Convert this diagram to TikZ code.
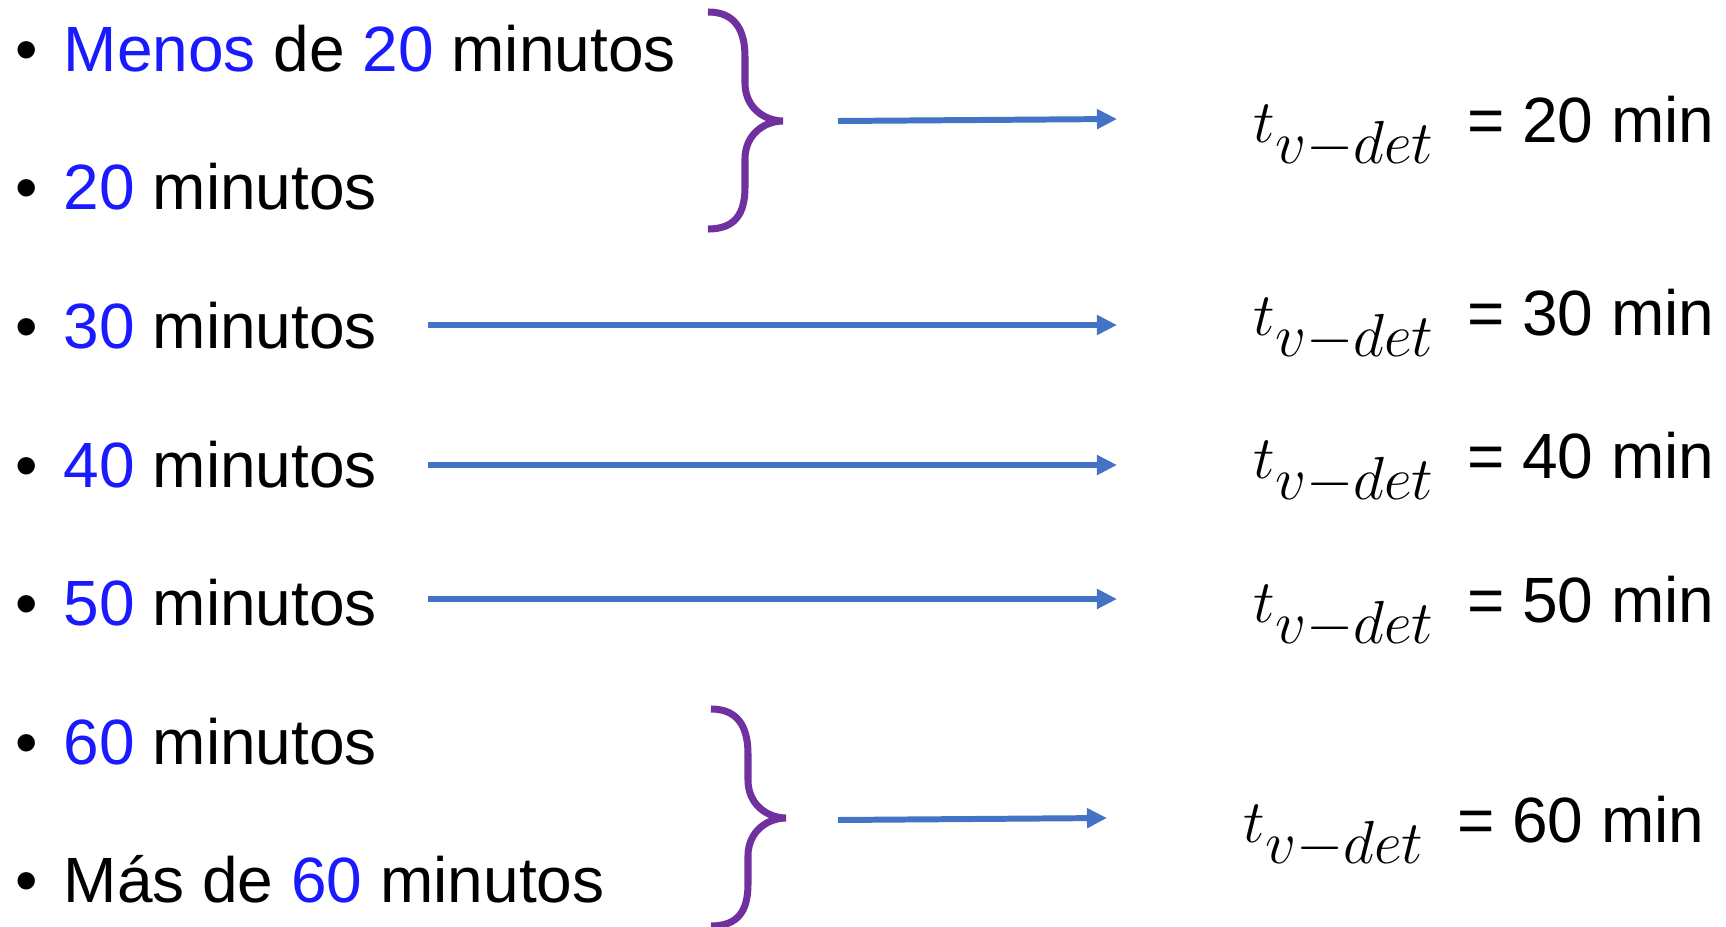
\documentclass[tikz,border=0pt]{standalone}
\usepackage{fontspec}
\setmainfont{Liberation Sans}
\usepackage{xcolor}
\usetikzlibrary{arrows.meta}
\DeclareMathSizes{18.2}{18.2}{16.7}{12}
\definecolor{azul}{HTML}{1A1AFF}
\definecolor{azulflecha}{HTML}{4472C4}
\definecolor{morado}{HTML}{7030A0}
\newcommand{\vin}{\makebox[0.48cm][l]{•}}
\newcommand{\az}[1]{\textcolor{azul}{#1}}
\newcommand{\tvdet}{$t_{v-det}$\hspace{0.32cm}}
\tikzset{
  item/.style={anchor=base west, inner sep=0pt, font=\fontsize{18.2}{22}\selectfont},
  res/.style={anchor=base west, inner sep=0pt, font=\fontsize{18.2}{22}\selectfont},
  flecha/.style={-{Triangle[length=5.7pt, width=5.4pt]}, line width=1.7pt, azulflecha},
  llave/.style={line width=2pt, morado},
  corchete/.pic={
    \draw[llave] (-75,-109) .. controls (-48,-109) and (-38,-91) .. (-38,-64) -- (-38,-38)
      .. controls (-38,-13) and (-18,0) .. (0,0)
      .. controls (-18,0) and (-38,13) .. (-38,38) -- (-38,66)
      .. controls (-38,93) and (-48,108) .. (-75,108);
  },
}

\begin{document}
\begin{tikzpicture}[x=0.01cm, y=-0.01cm]
  \useasboundingbox (0,0) rectangle (1726,927);
  % opciones de la encuesta
  \node[item] (l1) at (15,71) {\vin\az{Menos} de \az{20} minutos};
  \node[item] (l2) at (15,209) {\vin\az{20} minutos};
  \node[item] (l3) at (15,348) {\vin\az{30} minutos};
  \node[item] (l4) at (15,487) {\vin\az{40} minutos};
  \node[item] (l5) at (15,625) {\vin\az{50} minutos};
  \node[item] (l6) at (15,764) {\vin\az{60} minutos};
  \node[item] (l7) at (15,902) {\vin Más de \az{60} minutos};
  % valores asignados
  \node[res] (r1) at (1253,142) {\tvdet= 20 min};
  \node[res] (r3) at (1253,335) {\tvdet= 30 min};
  \node[res] (r4) at (1253,478) {\tvdet= 40 min};
  \node[res] (r5) at (1253,622) {\tvdet= 50 min};
  \node[res] (r6) at (1243,842) {\tvdet= 60 min};
  % llaves
  \pic at (783,121) {corchete};
  \pic at (786,818) {corchete};
  % flechas
  \coordinate (ini1) at (838,121); \coordinate (fin1) at (1117,119);
  \coordinate (ini3) at (428,325); \coordinate (fin3) at (1117,325);
  \coordinate (ini4) at (428,465); \coordinate (fin4) at (1117,465);
  \coordinate (ini5) at (428,599); \coordinate (fin5) at (1117,599);
  \coordinate (ini6) at (838,820); \coordinate (fin6) at (1107,818);
  \draw[flecha] (ini1) -- (fin1);
  \draw[flecha] (ini3) -- (fin3);
  \draw[flecha] (ini4) -- (fin4);
  \draw[flecha] (ini5) -- (fin5);
  \draw[flecha] (ini6) -- (fin6);
\end{tikzpicture}
\end{document}
